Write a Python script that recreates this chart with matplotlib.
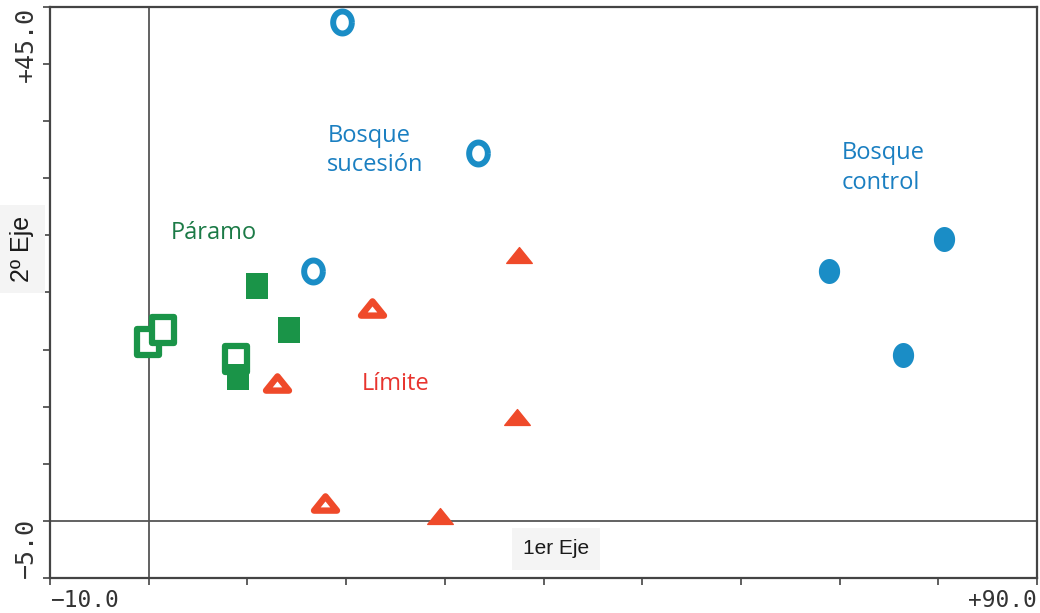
import numpy as np
import matplotlib
matplotlib.use('Agg')
import matplotlib.pyplot as plt
from matplotlib.path import Path
from matplotlib.markers import MarkerStyle

# Ordination scores (1er Eje, 2º Eje)
suc_x = [19.6, 33.4, 16.6]          # Bosque sucesión (open circles)
suc_y = [43.7, 32.2, 21.9]
ctl_x = [80.6, 68.9, 76.4]          # Bosque control (filled circles)
ctl_y = [24.7, 21.9, 14.5]
lim_open_x = [13.0, 22.6, 17.9]     # Límite (open triangles)
lim_open_y = [12.1, 18.6, 1.6]
lim_fill_x = [37.5, 37.3, 29.5]     # Límite (filled triangles)
lim_fill_y = [23.3, 9.1, 0.4]
par_open_x = [-0.1, 1.4, 8.8]       # Páramo (open squares)
par_open_y = [15.7, 16.7, 14.2]
par_fill_x = [11.0, 14.2, 9.0]      # Páramo (filled squares)
par_fill_y = [20.6, 16.7, 12.6]

XMIN, XMAX = -10, 90
YMIN, YMAX = -5, 45

BLUE = '#1a8dc6'
BLUE_TXT = '#1a7fc1'
GREEN = '#1a9448'
GREEN_TXT = '#1b7a46'
RED = '#ef4a2a'
RED_TXT = '#e8342e'

# slightly stretched marker shapes (the original is a bit taller than wide)
t = np.linspace(0, 2*np.pi, 73)
ell = Path(np.column_stack([0.85*np.cos(t), np.sin(t)]))
tri = Path([(-1, -0.62), (1, -0.62), (0, 0.62), (-1, -0.62)],
           [Path.MOVETO, Path.LINETO, Path.LINETO, Path.CLOSEPOLY])
rect = Path([(-0.85, -1), (0.85, -1), (0.85, 1), (-0.85, 1), (-0.85, -1)],
            [Path.MOVETO, Path.LINETO, Path.LINETO, Path.LINETO, Path.CLOSEPOLY])

fig = plt.figure(figsize=(10.4, 6.13), dpi=100)
ax = fig.add_axes([50/1040, 35/613, 987/1040, 571/613])
ax.set_xlim(XMIN, XMAX)
ax.set_ylim(YMIN, YMAX)

ax.axhline(0, color='#555555', lw=1.3, zorder=1)
ax.axvline(0, color='#555555', lw=1.3, zorder=1)

# Páramo
ax.plot(par_open_x, par_open_y, ls='none', marker=MarkerStyle(rect), ms=18.7,
        mfc='white', mec=GREEN, mew=4.5, zorder=3)
ax.plot(par_fill_x, par_fill_y, ls='none', marker=MarkerStyle(rect), ms=19.4,
        mfc=GREEN, mec=GREEN, mew=0, zorder=4)
# Límite
ax.plot(lim_open_x, lim_open_y, ls='none', marker=MarkerStyle(tri, joinstyle='round'),
        ms=16.5, mfc='white', mec=RED, mew=4.6, zorder=3)
ax.plot(lim_fill_x, lim_fill_y, ls='none', marker=MarkerStyle(tri, joinstyle='round'),
        ms=18.4, mfc=RED, mec=RED, mew=1, zorder=3)
# Bosque
ax.plot(suc_x, suc_y, ls='none', marker=MarkerStyle(ell), ms=15.8,
        mfc='white', mec=BLUE, mew=4.3, zorder=3)
ax.plot(ctl_x, ctl_y, ls='none', marker=MarkerStyle(ell), ms=18,
        mfc=BLUE, mec=BLUE, mew=0, zorder=3)

# group names
grp_font = dict(family=['Open Sans', 'DejaVu Sans'], fontsize=17, va='baseline', ha='left')
ax.text(18.1, 33.2, 'Bosque', color=BLUE_TXT, **grp_font)
ax.text(18.1, 30.6, 'sucesión', color=BLUE_TXT, **grp_font)
ax.text(70.2, 31.7, 'Bosque', color=BLUE_TXT, **grp_font)
ax.text(70.2, 29.1, 'control', color=BLUE_TXT, **grp_font)
ax.text(2.25, 24.7, 'Páramo', color=GREEN_TXT, **grp_font)
ax.text(21.6, 11.5, 'Límite', color=RED_TXT, **grp_font)

# frame and ticks
for s in ax.spines.values():
    s.set_color('#444444')
    s.set_linewidth(1.6)
ax.set_xticks(np.arange(XMIN, XMAX + 1, 10))
ax.set_yticks(np.arange(YMIN, YMAX + 1, 5))
ax.set_xticklabels([])
ax.set_yticklabels([])
ax.tick_params(direction='out', length=5, width=1.2, color='#444444')

mono = dict(family='DejaVu Sans Mono', color='#333333')
ax.text(XMIN, -0.02, '−10.0', transform=ax.get_xaxis_transform(),
        ha='left', va='top', fontsize=16.5, **mono)
ax.text(XMAX, -0.02, '+90.0', transform=ax.get_xaxis_transform(),
        ha='right', va='top', fontsize=16.5, **mono)
ax.text(-0.012, YMAX, '+45.0', transform=ax.get_yaxis_transform(),
        ha='right', va='top', rotation=90, fontsize=18, **mono)
ax.text(-0.012, YMIN, '−5.0', transform=ax.get_yaxis_transform(),
        ha='right', va='bottom', rotation=90, fontsize=18, **mono)

# axis names
box = dict(facecolor='#f4f4f4', edgecolor='none', pad=8)
fig.text(556/1040, 1 - 549/613, '1er Eje', ha='center', va='center',
         family='Liberation Sans', fontsize=15, color='#1a1a1a', bbox=box)
fig.text(22/1040, 1 - 249/613, '2º Eje', ha='center', va='center', rotation=90,
         family='Liberation Sans', fontsize=18, color='#1a1a1a', bbox=box)

fig.savefig('out.png', dpi=100)
